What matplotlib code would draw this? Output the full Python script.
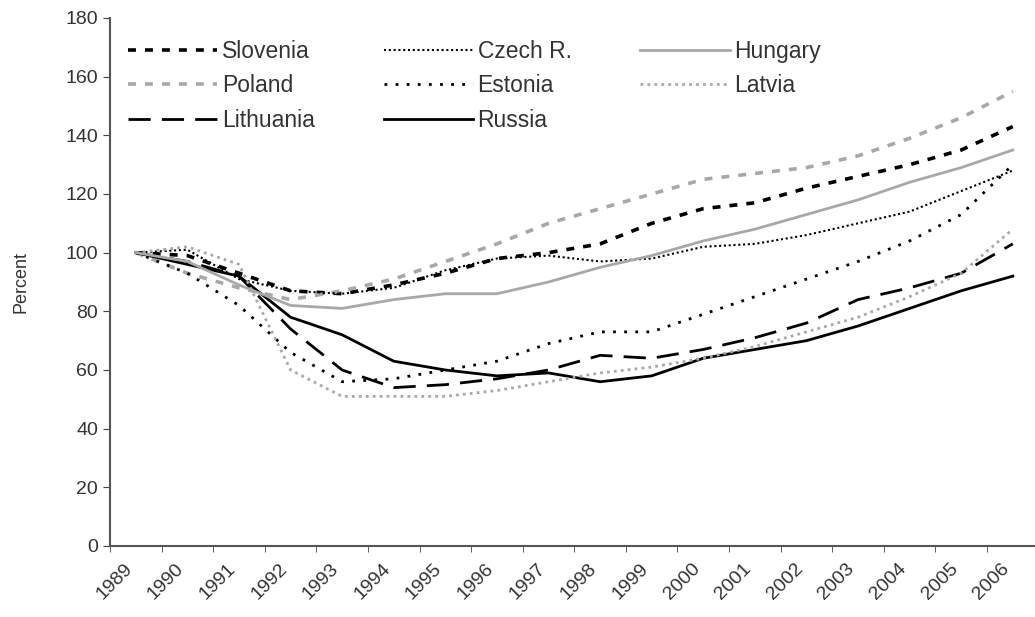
import matplotlib.pyplot as plt
import matplotlib.transforms as mtransforms
from matplotlib.ticker import FixedLocator

plt.rcParams["font.family"] = ["Liberation Sans", "DejaVu Sans"]

years = [str(y) for y in range(1989, 2007)]

slovenia = [100, 99, 93, 87, 86, 89, 93, 98, 100, 103, 110, 115, 117, 122, 126, 130, 135, 143]
poland = [100, 93, 88, 84, 87, 91, 97, 103, 110, 115, 120, 125, 127, 129, 133, 139, 146, 155]
lithuania = [100, 97, 92, 74, 60, 54, 55, 57, 60, 65, 64, 67, 71, 76, 84, 88, 93, 103]
czech = [100, 101, 91, 87, 86, 88, 94, 98, 99, 97, 98, 102, 103, 106, 110, 114, 121, 128]
estonia = [100, 93, 82, 66, 56, 57, 60, 63, 69, 73, 73, 79, 85, 91, 97, 104, 113, 130]
russia = [100, 96, 92, 78, 72, 63, 60, 58, 59, 56, 58, 64, 67, 70, 75, 81, 87, 92]
hungary = [100, 97, 89, 82, 81, 84, 86, 86, 90, 95, 99, 104, 108, 113, 118, 124, 129, 135]
latvia = [100, 102, 96, 60, 51, 51, 51, 53, 56, 59, 61, 64, 68, 73, 78, 85, 93, 108]

grey = "#a8a8a8"
x = range(len(years))

fig = plt.figure(figsize=(10.35, 6.17), dpi=100)
ax = fig.add_axes([110 / 1035, 71 / 617, 925 / 1035, 528 / 617])

ax.plot(x, slovenia, color="black", lw=2.6, dashes=(2.2, 2.5), label="Slovenia")
ax.plot(x, poland, color=grey, lw=2.6, dashes=(2.2, 2.5), label="Poland")
ax.plot(x, lithuania, color="black", lw=2, dashes=(8, 4), label="Lithuania")
ax.plot(x, czech, color="black", lw=1.5, dashes=(1, 1.3), label="Czech R.")
ax.plot(x, estonia, color="black", lw=2, dashes=(1, 3), label="Estonia")
ax.plot(x, russia, color="black", lw=2, label="Russia")
ax.plot(x, hungary, color=grey, lw=2, label="Hungary")
ax.plot(x, latvia, color=grey, lw=2, dashes=(1, 1.5), label="Latvia")

ax.set_xlim(-0.5, 17.43)
ax.set_ylim(0, 180)
ax.set_yticks(range(0, 181, 20))
ax.set_xticks(list(x))
ax.set_xticklabels(years, rotation=45, ha="right", fontsize=14, color="#333333")
shift = mtransforms.ScaledTranslation(-8 / 100, 0, fig.dpi_scale_trans)
for lbl in ax.get_xticklabels():
    lbl.set_transform(lbl.get_transform() + shift)
ax.xaxis.set_minor_locator(FixedLocator([i - 0.5 for i in range(19)]))
ax.tick_params(axis="x", which="major", length=0, pad=10)
ax.tick_params(axis="x", which="minor", length=4, color="#444444")
ax.tick_params(axis="y", length=5, color="#444444", labelsize=14, labelcolor="#333333")

for side in ["top", "right"]:
    ax.spines[side].set_visible(False)
for side in ["left", "bottom"]:
    ax.spines[side].set_color("#555555")
    ax.spines[side].set_linewidth(1.5)

ax.set_ylabel("Percent", fontsize=13, color="#333333", labelpad=26)

ax.legend(ncol=3, loc="upper left", bbox_to_anchor=(128 / 1035, 1 - 40 / 617),
          bbox_transform=fig.transFigure, frameon=False, borderpad=0, borderaxespad=0,
          fontsize=16.5, handlelength=3.9, handletextpad=0.2, columnspacing=3.0,
          labelspacing=0.5, labelcolor="#333333")

fig.savefig("out.png", dpi=100)
